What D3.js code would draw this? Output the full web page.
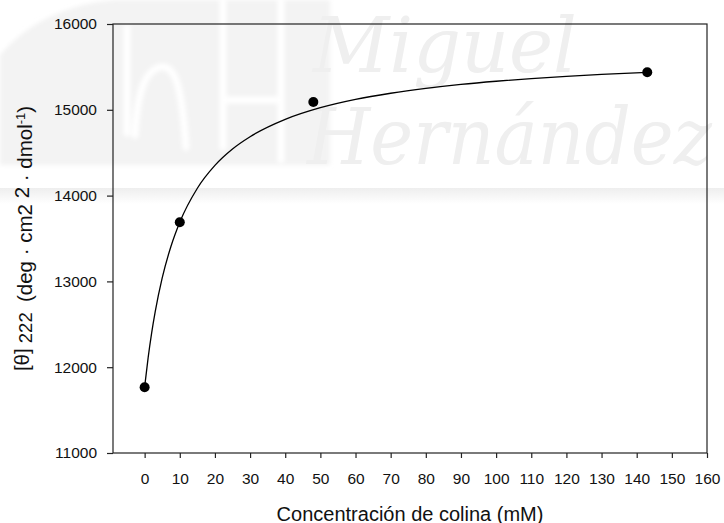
<!DOCTYPE html>
<html>
<head>
<meta charset="utf-8">
<script src="https://cdn.jsdelivr.net/npm/d3@7"></script>
<style>
  html, body { margin: 0; padding: 0; background: #fff; }
  svg { display: block; }
  text { white-space: pre; }
</style>
</head>
<body>
<svg id="chart" width="724" height="523"></svg>
<script>
// Measured points: choline concentration (mM) vs mean residue ellipticity at 222 nm
const concentration = [0, 10, 48, 143];
const ellipticity = [11766, 13690, 15091, 15437];

// Traced saturation curve through the measurements
const curveX = [0, 1, 2, 3, 5, 7.5, 10, 15, 20, 25, 30, 40, 50, 60, 70, 80, 90, 100, 110, 120, 130, 143];
const curveY = [11770, 12112, 12400, 12645, 13040, 13410, 13690, 14086, 14352, 14543, 14686, 14888,
                15024, 15121, 15193, 15250, 15296, 15333, 15364, 15390, 15413, 15437];

const xTicks = [0, 10, 20, 30, 40, 50, 60, 70, 80, 90, 100, 110, 120, 130, 140, 150, 160];
const yTicks = [11000, 12000, 13000, 14000, 15000, 16000];

const xTitle = "Concentración de colina (mM)";

const svg = d3.select("#chart");
const W = 724, H = 523;
const plotL = 113, plotR = 707, plotT = 24, plotB = 453;

const x = d3.scaleLinear().domain([-9, 160]).range([plotL, plotR]);
const y = d3.scaleLinear().domain([11000, 16000]).range([plotB, plotT]);

// ---- background watermark ----
const defs = svg.append("defs");
defs.append("filter").attr("id", "soft")
  .append("feGaussianBlur").attr("stdDeviation", 2.2);
const band = defs.append("linearGradient").attr("id", "band")
  .attr("x1", 0).attr("y1", 0).attr("x2", 0).attr("y2", 1);
band.append("stop").attr("offset", "0%").attr("stop-color", "#eeeeee");
band.append("stop").attr("offset", "100%").attr("stop-color", "#ffffff");

const wm = svg.append("g").attr("class", "watermark");
wm.append("path")
  .attr("d", "M0,55 C30,20 70,4 115,0 L330,0 L330,165 L0,165 Z")
  .attr("fill", "#f3f3f3").attr("filter", "url(#soft)");
const logo = wm.append("g").attr("fill", "none").attr("stroke", "#ffffff")
  .attr("stroke-width", 7).attr("stroke-linecap", "round").attr("filter", "url(#soft)");
logo.append("path").attr("d", "M127,28 L127,133");
logo.append("path").attr("d", "M135,135 C137,100 142,72 160,67 C176,64 182,90 186,147");
logo.append("path").attr("d", "M223,0 L223,147");
logo.append("path").attr("d", "M281,0 L281,160");
logo.append("path").attr("d", "M223,100 L281,100");
wm.append("rect").attr("x", 0).attr("y", 188).attr("width", W).attr("height", 16)
  .attr("fill", "url(#band)");

// watermark words, squeezed horizontally to their measured width
function wmWord(str, x0, base, size, width) {
  const t = wm.append("text").text(str)
    .attr("x", 0).attr("y", 0)
    .attr("font-family", "DejaVu Serif").attr("font-style", "italic")
    .attr("font-size", size).attr("fill", "#efefef");
  const natural = t.node().getComputedTextLength();
  t.attr("transform", `translate(${x0},${base}) scale(${width / natural},1)`);
}
wmWord("Miguel", 313, 72, 76, 264);
wmWord("Hernández", 307, 164, 78, 405);

// ---- axes ----
const font = "Liberation Sans, Arial, sans-serif";

const xAxis = svg.append("g")
  .attr("transform", `translate(0,${plotB})`)
  .call(d3.axisBottom(x).tickValues(xTicks).tickSize(5).tickSizeOuter(0).tickPadding(14.5)
    .tickFormat(d3.format("d")));
const yAxis = svg.append("g")
  .attr("transform", `translate(${plotL},0)`)
  .call(d3.axisLeft(y).tickValues(yTicks).tickSize(6).tickSizeOuter(0).tickPadding(10)
    .tickFormat(d3.format("d")));

[xAxis, yAxis].forEach(g => {
  g.select(".domain").remove();
  g.selectAll(".tick line").attr("stroke", "#222").attr("stroke-width", 1.2);
  g.selectAll(".tick text").attr("fill", "#111")
    .attr("font-family", font).attr("font-size", 15.5);
});

// plot frame
svg.append("rect")
  .attr("x", plotL).attr("y", plotT)
  .attr("width", plotR - plotL).attr("height", plotB - plotT)
  .attr("fill", "none").attr("stroke", "#222").attr("stroke-width", 1.2);

// ---- curve and points ----
const trace = curveX.map((d, i) => [d, curveY[i]]);
svg.append("path")
  .datum(trace)
  .attr("fill", "none").attr("stroke", "#000").attr("stroke-width", 1.3)
  .attr("d", d3.line().x(d => x(d[0])).y(d => y(d[1])).curve(d3.curveMonotoneX));

svg.append("g").selectAll("circle")
  .data(concentration.map((d, i) => [d, ellipticity[i]]))
  .join("circle")
  .attr("cx", d => x(d[0])).attr("cy", d => y(d[1]))
  .attr("r", 5).attr("fill", "#000");

// ---- titles ----
svg.append("text")
  .attr("x", (plotL + plotR) / 2).attr("y", 520.5)
  .attr("text-anchor", "middle")
  .attr("font-family", font).attr("font-size", 20).attr("fill", "#111")
  .text(xTitle);

const yt = svg.append("text")
  .attr("transform", `translate(31,${(plotT + plotB) / 2}) rotate(-90)`)
  .attr("text-anchor", "middle")
  .attr("font-family", font).attr("font-size", 20.5).attr("fill", "#111");
yt.append("tspan").attr("dy", -2).text("[θ]");
yt.append("tspan").attr("dy", 3).attr("font-size", 18.5).text(" 222  ");
yt.append("tspan").attr("dy", 0).text("(deg · cm2 ");
yt.append("tspan").attr("dy", -3).text("2");
yt.append("tspan").attr("dy", 3).text(" · dmol");
yt.append("tspan").attr("dy", -7).attr("font-size", 13).text("-1");
yt.append("tspan").attr("dy", 7).text(")");
</script>
</body>
</html>
